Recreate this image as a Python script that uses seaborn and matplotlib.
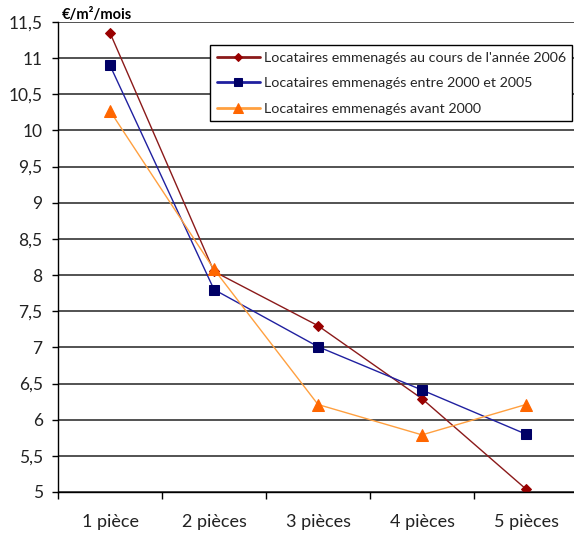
import matplotlib
matplotlib.use("Agg")
import matplotlib.pyplot as plt
import seaborn as sns
import pandas as pd
import numpy as np

categories = ["1 pièce", "2 pièces", "3 pièces", "4 pièces", "5 pièces"]
series_names = [
    "Locataires emmenagés au cours de l'année 2006",
    "Locataires emmenagés entre 2000 et 2005",
    "Locataires emmenagés avant 2000",
]
loyer_2006 = [11.35, 8.05, 7.30, 6.29, 5.04]
loyer_2000_2005 = [10.90, 7.80, 7.01, 6.41, 5.80]
loyer_avant_2000 = [10.27, 8.08, 6.21, 5.79, 6.21]
y_ticks = [5, 5.5, 6, 6.5, 7, 7.5, 8, 8.5, 9, 9.5, 10, 10.5, 11, 11.5]

sns.set_theme(style="white")
plt.rcParams["font.family"] = ["Lato", "DejaVu Sans"]

rows = []
for name, vals in zip(series_names, [loyer_2006, loyer_2000_2005, loyer_avant_2000]):
    for i, v in enumerate(vals):
        rows.append({"serie": name, "pos": i, "valeur": v})
df = pd.DataFrame(rows)

line_colors = ["#8B1A1A", "#2020A0", "#FFA040"]
marker_colors = ["#990000", "#000066", "#FF6600"]
markers = ["D", "s", "^"]
msizes = [5, 7, 9]

fig = plt.figure(figsize=(5.74, 5.34), dpi=100)
ax = fig.add_axes([58 / 574, 1 - 492 / 534, 520 / 574, 470 / 534])

for name, lc, mc, mk, ms in zip(series_names, line_colors, marker_colors, markers, msizes):
    sns.lineplot(
        data=df[df["serie"] == name], x="pos", y="valeur", ax=ax,
        color=lc, linewidth=1.0, marker=mk, markersize=ms,
        markerfacecolor=mc, markeredgecolor=mc, label=name, legend=False,
    )

ax.set_xlim(-0.5, 4.5)
ax.set_ylim(5, 11.5)
ax.set_yticks(y_ticks)
ax.set_yticklabels([f"{t:g}".replace(".", ",") for t in y_ticks], fontsize=12.5, color="#222222")
ax.yaxis.grid(True, color="#444444", linewidth=1.3)
ax.set_axisbelow(True)

ax.set_xticks(np.arange(-0.5, 4.6, 1.0))
ax.set_xticklabels([])
ax.set_xticks(np.arange(0, 5), minor=True)
ax.set_xticklabels(categories, minor=True, fontsize=13, color="#222222")
ax.tick_params(axis="x", which="major", direction="out", length=5, width=1, color="black", bottom=True)
ax.tick_params(axis="x", which="minor", length=0, pad=16)
ax.tick_params(axis="y", direction="out", length=4, width=1, color="black", left=True, pad=7)

ax.set_xlabel("")
ax.set_ylabel("")
for s in ["top", "right"]:
    ax.spines[s].set_visible(False)
ax.spines["left"].set_color("black")
ax.spines["bottom"].set_color("black")
ax.spines["left"].set_linewidth(1)
ax.spines["bottom"].set_linewidth(1)

fig.text(62 / 574, 1 - 15 / 534, "€/m²/mois", fontsize=10.5, fontweight="bold",
         va="center", ha="left", color="black")

handles, labels = ax.get_legend_handles_labels()
leg = ax.legend(handles, labels, loc="upper left", bbox_to_anchor=(203 / 574, 1 - 38 / 534),
                bbox_transform=fig.transFigure, fontsize=10.3, frameon=True, fancybox=False,
                edgecolor="black", framealpha=1, handlelength=3.0, handletextpad=0.3,
                labelspacing=0.95, borderpad=0.45, markerscale=0.8)
leg.get_frame().set_linewidth(1)
for ln in leg.get_lines():
    ln.set_linewidth(2)

fig.savefig("out.png", dpi=100)
